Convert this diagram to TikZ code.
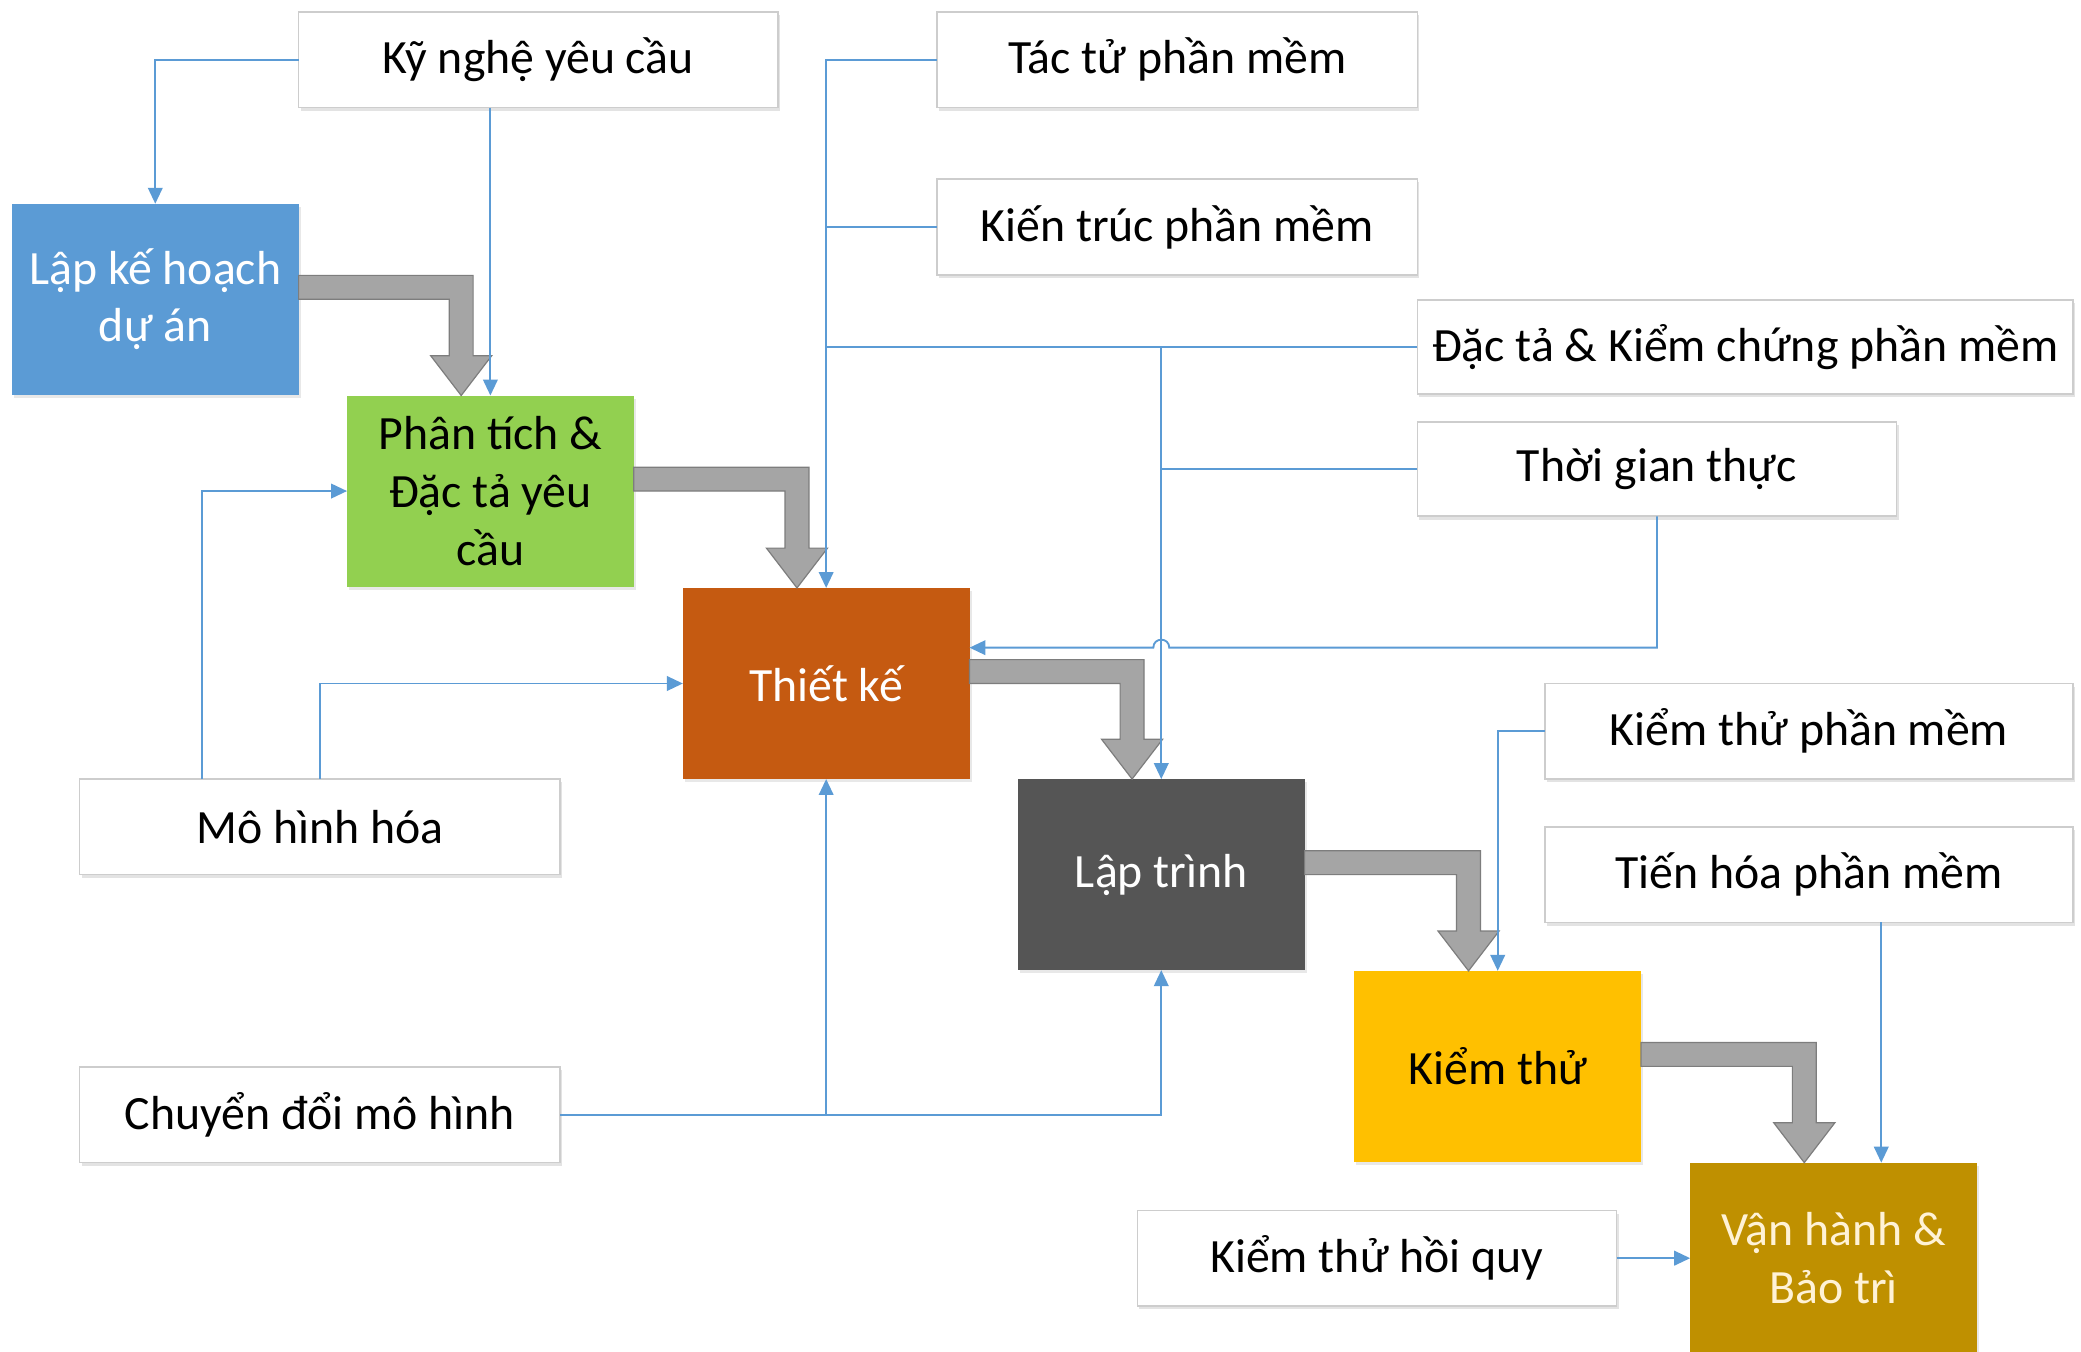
\documentclass[tikz,border=0pt]{standalone}
\usepackage{fontspec}
\setmainfont{Carlito}
\usetikzlibrary{calc,arrows.meta,shadows}
\definecolor{cblue}{RGB}{91,155,213}
\definecolor{cgreen}{RGB}{146,208,80}
\definecolor{corange}{RGB}{197,90,17}
\definecolor{cdark}{RGB}{85,85,85}
\definecolor{cgold}{RGB}{255,192,0}
\definecolor{cdgold}{RGB}{191,144,0}
\definecolor{ccream}{RGB}{255,242,214}
\definecolor{cborder}{RGB}{205,205,205}
\definecolor{arrfill}{RGB}{165,165,165}
\definecolor{arrline}{RGB}{125,125,125}
\newcommand\bigarr[2]{%
\path[bigarrow] let \p1=(#1.north east), \p2=(#2.north west) in
 (\x1,\y1-54pt) -- (\x2+95pt,\y1-54pt) -- (\x2+95pt,\y2+30pt) -- (\x2+109pt,\y2+30pt)
 -- (\x2+86pt,\y2) -- (\x2+63pt,\y2+30pt) -- (\x2+77pt,\y2+30pt) -- (\x2+77pt,\y1-72pt)
 -- (\x1,\y1-72pt) -- cycle;}
\begin{document}
\begin{tikzpicture}[x=1pt,y=-1pt,
  font=\fontsize{36}{43.5}\selectfont,
  wbox/.style={draw=cborder, line width=1.2pt, fill=white, inner sep=0pt, outer sep=0pt,
    drop shadow={shadow xshift=1.5pt, shadow yshift=-2.5pt, opacity=.18, fill=black!60}},
  cbox/.style={inner sep=0pt, outer sep=0pt, minimum width=216pt, minimum height=144pt,
    align=center, drop shadow={shadow xshift=1.5pt, shadow yshift=-2.5pt, opacity=.15, fill=black!60}},
  bigarrow/.style={fill=arrfill, draw=arrline, line width=0.9pt, line join=miter},
  conn/.style={draw=cblue, line width=1.4pt, -{Triangle[length=12pt,width=11pt]}},
  link/.style={draw=cblue, line width=1.4pt}]
\useasboundingbox (0,0) rectangle (1568,1018);
\clip (0,0) rectangle (1568,1018);
\fill[white] (0,0) rectangle (1568,1018);

% white boxes
\node[wbox, minimum width=361pt, minimum height=72pt] (kn)  at (405.5,45)  {Kỹ nghệ yêu cầu};
\node[wbox, minimum width=362pt, minimum height=72pt] (tt)  at (887,45)    {Tác tử phần mềm};
\node[wbox, minimum width=362pt, minimum height=72pt] (kt)  at (887,171)   {Kiến trúc phần mềm};
\node[wbox, minimum width=494pt, minimum height=71pt] (dt)  at (1315,261.5) {Đặc tả \& Kiểm chứng phần mềm};
\node[wbox, minimum width=361pt, minimum height=71pt] (tg)  at (1248.5,353.5) {Thời gian thực};
\node[wbox, minimum width=398pt, minimum height=72pt] (ktp) at (1363,551)   {Kiểm thử phần mềm};
\node[wbox, minimum width=398pt, minimum height=72pt] (th)  at (1363,659)   {Tiến hóa phần mềm};
\node[wbox, minimum width=362pt, minimum height=72pt] (mh)  at (241,623)   {Mô hình hóa};
\node[wbox, minimum width=362pt, minimum height=72pt] (cd)  at (241,840)   {Chuyển đổi mô hình};
\node[wbox, minimum width=361pt, minimum height=72pt] (hq)  at (1037.5,948) {Kiểm thử hồi quy};

% coloured boxes
\node[cbox, fill=cblue, text=white]   (b1) at (117,225.5)  {Lập kế hoạch\\dự án};
\node[cbox, fill=cgreen, text=black]  (b2) at (369.5,370)  {Phân tích \&\\Đặc tả yêu\\cầu};
\node[cbox, fill=corange, text=white] (b3) at (622.5,515)  {Thiết kế};
\node[cbox, fill=cdark, text=white]   (b4) at (875,659)    {Lập trình};
\node[cbox, fill=cgold, text=black]   (b5) at (1128.5,803.5) {Kiểm thử};
\node[cbox, fill=cdgold, text=ccream] (b6) at (1381.5,948) {Vận hành \&\\Bảo trì};

% thick process arrows
\bigarr{b1}{b2}
\bigarr{b2}{b3}
\bigarr{b3}{b4}
\bigarr{b4}{b5}
\bigarr{b5}{b6}

% thin connectors
\draw[conn] (kn.west) -| (b1.north);
\draw[conn] (b2.north |- kn.south) -- (b2.north);
\coordinate (mhl) at ($(mh.north)+(-89,0)$);
\draw[conn] (mhl) |- (b2.west);
\draw[conn] (mh.north) |- (b3.west);
\draw[conn] (tt.west) -| (b3.north);
\draw[link] (kt.west) -- (b3.north |- kt.west);
\draw[link] (dt.west) -- (b3.north |- dt.west);
\draw[conn] (b4.north |- dt.west) -- (b4.north);
\draw[link] (tg.west) -- (b4.north |- tg.west);
\coordinate (hp) at ($(b3.east)+(0,-27)$);
\coordinate (hop) at (b4.north |- hp);
\draw[conn] (tg.south) |- ($(hop)+(6,0)$) .. controls ($(hop)+(6,-8)$) and ($(hop)+(-6,-8)$) .. ($(hop)+(-6,0)$) -- (hp);
\draw[conn] (cd.east) -| (b4.south);
\draw[conn] (b3.south |- cd.east) -- (b3.south);
\draw[conn] (ktp.west) -| (b5.north);
\coordinate (b6in) at ($(b6.north)+(36,0)$);
\draw[conn] (b6in |- th.south) -- (b6in);
\draw[conn] (hq.east) -- (b6.west);
\end{tikzpicture}
\end{document}
